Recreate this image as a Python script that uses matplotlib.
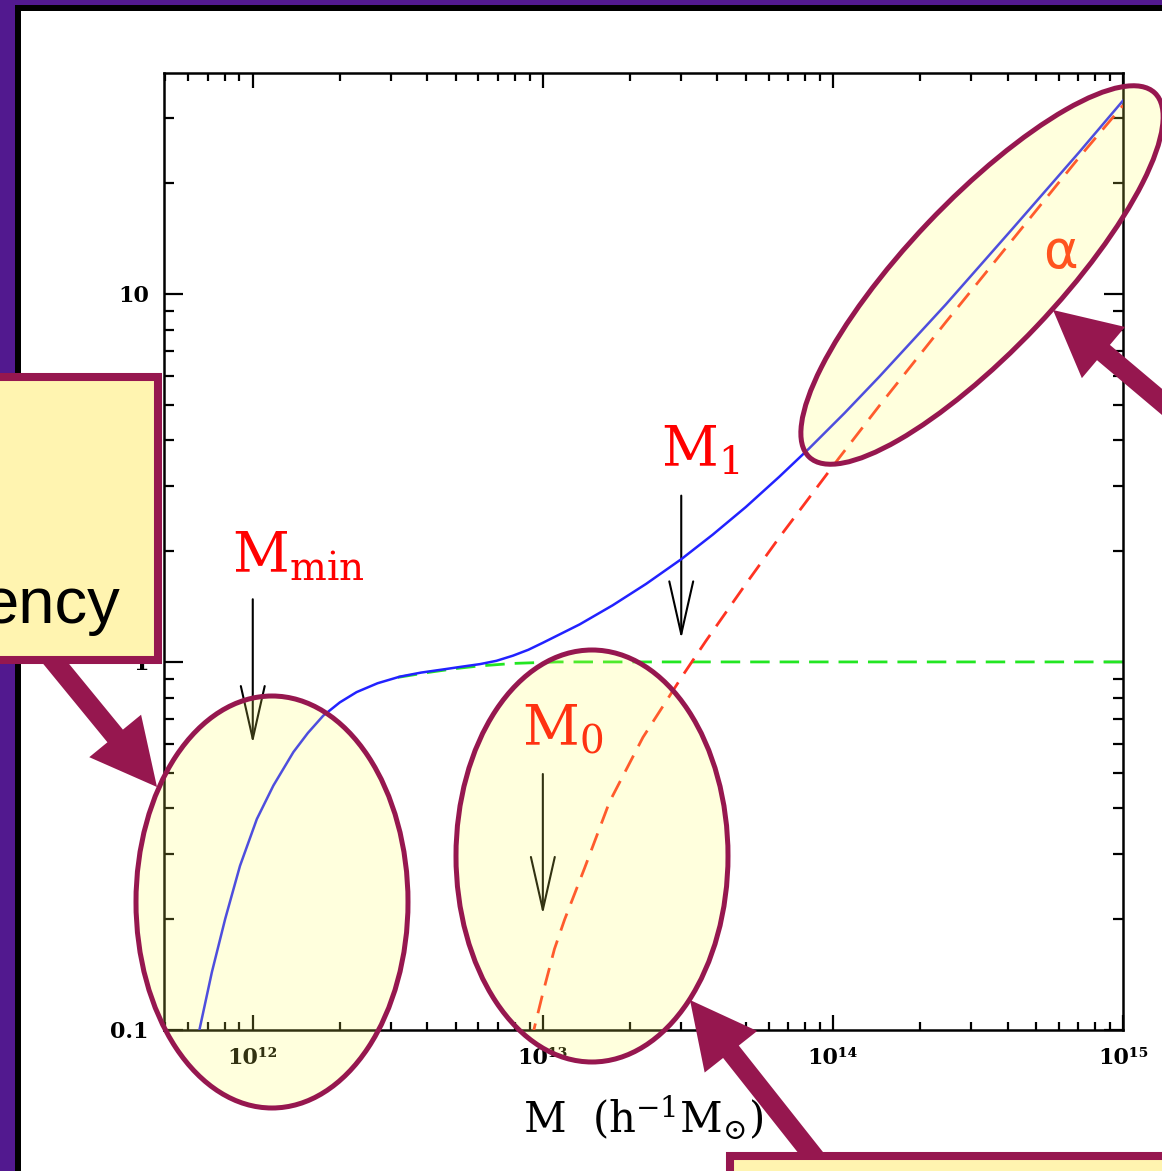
import numpy as np
import matplotlib as mpl
import matplotlib.pyplot as plt
import matplotlib.transforms as mtransforms
from matplotlib.patches import Ellipse, Rectangle, FancyArrow
from matplotlib.ticker import NullFormatter

mpl.rcParams['mathtext.fontset'] = 'dejavuserif'

# Mean occupation vs halo mass, read as log10 values
total_logm = [11.816, 11.859, 11.905, 11.956, 12.014, 12.071, 12.140, 12.19,
              12.243, 12.30, 12.358, 12.43, 12.507, 12.58, 12.66, 12.72,
              12.783, 12.84, 12.897, 12.95, 13.0, 13.127, 13.241, 13.356,
              13.477, 13.586, 13.700, 13.815, 13.918, 14.04, 14.160, 14.389,
              14.618, 14.848, 15.0]
total_logn = [-1.0, -0.843, -0.698, -0.554, -0.427, -0.336, -0.245, -0.193,
              -0.146, -0.110, -0.082, -0.058, -0.040, -0.029, -0.020, -0.013,
              -0.006, 0.003, 0.017, 0.033, 0.052, 0.102, 0.154, 0.212,
              0.279, 0.346, 0.421, 0.503, 0.580, 0.676, 0.775, 0.971,
              1.176, 1.384, 1.525]

sat_logm = [12.96, 12.972, 13.000, 13.04, 13.075, 13.144, 13.230, 13.345,
            13.482, 13.563, 13.700, 13.815, 14.022, 14.160, 14.389, 14.618,
            14.848, 15.0]
sat_logn = [-1.03, -0.99, -0.90, -0.78, -0.70, -0.56, -0.38, -0.205,
            -0.037, 0.058, 0.212, 0.338, 0.555, 0.696, 0.923, 1.146,
            1.370, 1.512]

cen_logm = [12.50, 12.61, 12.70, 12.78, 12.90, 13.05, 15.0]
cen_logn = [-0.042, -0.028, -0.018, -0.011, -0.004, 0.0, 0.0]

# Characteristic masses marked with arrows
mass_names = ['min', '0', '1']
mass_values = [1e12, 1e13, 3e13]

x_ticks = [1e12, 1e13, 1e14, 1e15]
x_ticklabels = ['10\u00b9\u00b2', '10\u00b9\u00b3', '10\u00b9\u2074', '10\u00b9\u2075']
y_ticks = [0.1, 1, 10]
y_ticklabels = ['0.1', '1', '10']

W, H = 1162, 1171
maroon = '#96174f'
purple = '#52198f'
boxfill = '#fff4b0'

fig = plt.figure(figsize=(W / 100, H / 100), dpi=100)
fig.patch.set_facecolor('white')

# pixel coordinates, origin top-left
pix = mtransforms.Affine2D().scale(1, -1).translate(0, H)

ax = fig.add_axes([164 / W, 1 - 1030 / H, 959 / W, 957 / H])
ax.set_zorder(1)

ax.plot(10**np.array(cen_logm), 10**np.array(cen_logn), color='#22e622',
        lw=2.0, ls=(0, (7, 3.6)), zorder=2)
ax.plot(10**np.array(sat_logm), 10**np.array(sat_logn), color='#ff3322',
        lw=2.0, ls=(0, (6.5, 3.8)), zorder=3)
ax.plot(10**np.array(total_logm), 10**np.array(total_logn), color='#2222ff',
        lw=1.8, zorder=4)

ax.set_xscale('log')
ax.set_yscale('log')
ax.set_xlim(10**11.694, 1e15)
ax.set_ylim(0.1, 10**1.6)

ax.set_xticks(x_ticks, x_ticklabels)
ax.set_yticks(y_ticks, y_ticklabels)
ax.xaxis.set_minor_formatter(NullFormatter())
ax.yaxis.set_minor_formatter(NullFormatter())

ax.tick_params(which='both', direction='in', top=True, right=True,
               width=1.6, colors='black')
ax.tick_params(axis='y', which='major', length=14, pad=11)
ax.tick_params(axis='y', which='minor', length=7)
ax.tick_params(axis='x', which='major', length=11, pad=12)
ax.tick_params(axis='x', which='minor', length=5.5)
for lab in ax.get_xticklabels() + ax.get_yticklabels():
    lab.set_fontfamily('DejaVu Serif')
    lab.set_fontweight('bold')
    lab.set_fontsize(16)
for sp in ax.spines.values():
    sp.set_linewidth(1.8)

ax.set_xlabel('M  (h$^{-1}$M$_{\\odot}$)', fontfamily='DejaVu Serif',
              fontsize=30, labelpad=18)

# arrows marking the characteristic masses
arrow_spans = [(1.48, 0.60), (0.496, 0.206), (2.83, 1.155)]
label_base = [1.756, 0.591, 3.39]
for name, m, (y0, y1), yb in zip(mass_names, mass_values, arrow_spans, label_base):
    ax.annotate('', xy=(m, y1), xytext=(m, y0),
                arrowprops=dict(arrowstyle='->,head_length=1.9,head_width=0.43',
                                lw=1.5, color='black', mutation_scale=20,
                                shrinkA=0, shrinkB=0))
    ax.text(m * 0.85, yb, r'$\mathrm{M_{%s}}$' % name, color='red',
            fontsize=40, ha='left', va='baseline')

ax.text(10**14.785, 10**1.11, '\u03b1', color='#ff2a10', fontsize=38,
        family='DejaVu Sans', ha='center', va='center', zorder=6)

# slide frame
fig.add_artist(Rectangle((0, 0), 15, H, transform=pix, color=purple, lw=0, zorder=0.5))
fig.add_artist(Rectangle((0, 0), W, 5, transform=pix, color=purple, lw=0, zorder=0.5))
fig.add_artist(Rectangle((15, 5), 6, H, transform=pix, color='black', lw=0, zorder=0.6))
fig.add_artist(Rectangle((15, 5), W, 6, transform=pix, color='black', lw=0, zorder=0.6))

# highlight ellipses
ell_fill = (1, 1, 0.35, 0.2)
for (cx, cy), w, h, ang in [((272, 902), 272, 412, 0),
                            ((592, 856), 272, 412, 0),
                            ((982, 275), 502, 150, -46.5)]:
    fig.add_artist(Ellipse((cx, cy), w, h, angle=ang, transform=pix,
                           facecolor=ell_fill, edgecolor=maroon, lw=3.6, zorder=2))

# pointer arrows
for (tx, ty), (hx, hy) in [((30, 632), (157, 787)),
                           ((1206, 439), (1053, 310)),
                           ((845, 1196), (690, 1000))]:
    fig.add_artist(FancyArrow(tx, ty, hx - tx, hy - ty, width=20, head_width=67,
                              head_length=66, length_includes_head=True,
                              transform=pix, color=maroon, lw=0, zorder=3))

# callout boxes
fig.add_artist(Rectangle((-20, 377), 178, 283, transform=pix, facecolor=boxfill,
                         edgecolor=maroon, lw=5.8, zorder=4))
fig.add_artist(Rectangle((730, 1156), 500, 100, transform=pix, facecolor=boxfill,
                         edgecolor=maroon, lw=5.8, zorder=4))
fig.text(120, 623, 'ency', transform=pix, family='Liberation Sans', fontsize=47,
         ha='right', va='baseline', color='black', zorder=5)

fig.savefig('out.png', dpi=100)
